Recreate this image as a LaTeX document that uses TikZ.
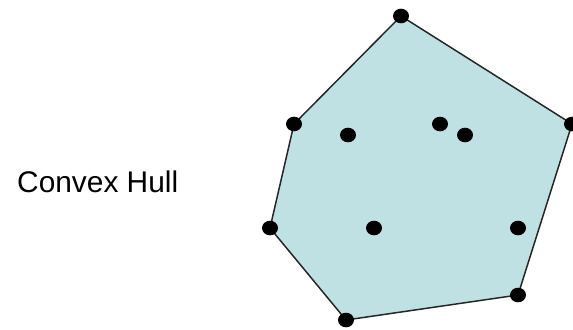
\documentclass[tikz,border=0pt]{standalone}
\usepackage{fontspec}
\setmainfont{Liberation Sans}
\usepackage{xcolor}
\usepackage{tikz}
\definecolor{hullfill}{HTML}{BFE1E4}

\begin{document}
\begin{tikzpicture}[x=0.02cm, y=0.02cm,
    dot/.style={fill=black},
    hull/.style={fill=hullfill, draw=black!85, line width=0.85pt, line join=round}]
  \useasboundingbox (0,0) rectangle (573,329);
  % the points on the hull, going round clockwise from the top
  \coordinate (top) at (401,313);
  \coordinate (right) at (572,205);
  \coordinate (lowright) at (518,34);
  \coordinate (bottom) at (346,9);
  \coordinate (left) at (270,101);
  \coordinate (upleft) at (294,205);
  % the points inside
  \coordinate (in1) at (348,194);
  \coordinate (in2) at (440,205);
  \coordinate (in3) at (465,194);
  \coordinate (in4) at (374,101);
  \coordinate (in5) at (518,101);
  \draw[hull] (top) -- (right) -- (lowright) -- (bottom) -- (left) -- (upleft) -- cycle;
  \foreach \p in {top,right,lowright,bottom,left,upleft,in1,in2,in3,in4,in5}
    \fill[dot] (\p) ellipse (8 and 7.3);
  \node[font=\fontsize{17}{20}\selectfont, anchor=west] (title) at (11,147) {Convex Hull};
\end{tikzpicture}
\end{document}
